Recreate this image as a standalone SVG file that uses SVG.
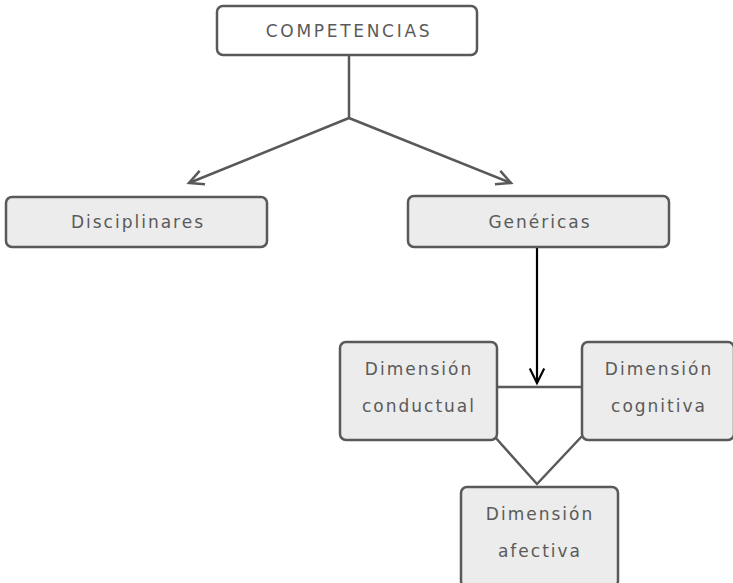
<svg xmlns="http://www.w3.org/2000/svg" width="733" height="583" viewBox="0 0 733 583">
<style>
.box{fill:#ebeceb;stroke:#595959;stroke-width:2.5}
.top{fill:#ffffff;stroke:#595959;stroke-width:2.5}
.t{font-family:"DejaVu Sans","Liberation Sans",sans-serif;font-size:17px;fill:#5a5a5a;text-anchor:middle;letter-spacing:2px}
.ln{stroke:#595959;stroke-width:2.5;fill:none}
</style>
<defs>
<marker id="ag" viewBox="0 0 20 20" refX="18" refY="10" markerWidth="18" markerHeight="18" markerUnits="userSpaceOnUse" orient="auto" overflow="visible">
<path d="M2,2 L18,10 L2,18" fill="none" stroke="#595959" stroke-width="2.8"/>
</marker>
<marker id="ab" viewBox="0 0 20 20" refX="18" refY="10" markerWidth="18" markerHeight="18" markerUnits="userSpaceOnUse" orient="auto" overflow="visible">
<path d="M2,2 L18,10 L2,18" fill="none" stroke="#000" stroke-width="2.4"/>
</marker>
</defs>
<g id="connectors">
<path class="ln" d="M349,55 L349,118"/>
<path class="ln" d="M349,118 L189,183" marker-end="url(#ag)"/>
<path class="ln" d="M349,118 L511,183" marker-end="url(#ag)"/>
<path d="M537,247 L537,383" stroke="#000" stroke-width="2.2" fill="none" marker-end="url(#ab)"/>
<path class="ln" d="M497,387 L582,387"/>
<path class="ln" d="M495,437 L537,484 L584,434"/>
</g>
<g id="competencias">
<rect class="top" x="217" y="6" width="260" height="49" rx="6"/>
<text class="t" x="349" y="37" style="letter-spacing:2.7px">COMPETENCIAS</text>
</g>
<g id="disciplinares">
<rect class="box" x="6" y="197" width="261" height="50" rx="6"/>
<text class="t" x="138" y="228">Disciplinares</text>
</g>
<g id="genericas">
<rect class="box" x="408" y="196" width="261" height="51" rx="6"/>
<text class="t" x="540" y="228">Genéricas</text>
</g>
<g id="conductual">
<rect class="box" x="340" y="342" width="157" height="98" rx="6"/>
<text class="t" x="419" y="375">Dimensión</text>
<text class="t" x="419" y="412">conductual</text>
</g>
<g id="cognitiva">
<rect class="box" x="582" y="342" width="152" height="98" rx="6"/>
<text class="t" x="659" y="375">Dimensión</text>
<text class="t" x="659" y="412">cognitiva</text>
</g>
<g id="afectiva">
<rect class="box" x="461" y="487" width="157" height="100" rx="6"/>
<text class="t" x="540" y="520">Dimensión</text>
<text class="t" x="540" y="557">afectiva</text>
</g>
</svg>
